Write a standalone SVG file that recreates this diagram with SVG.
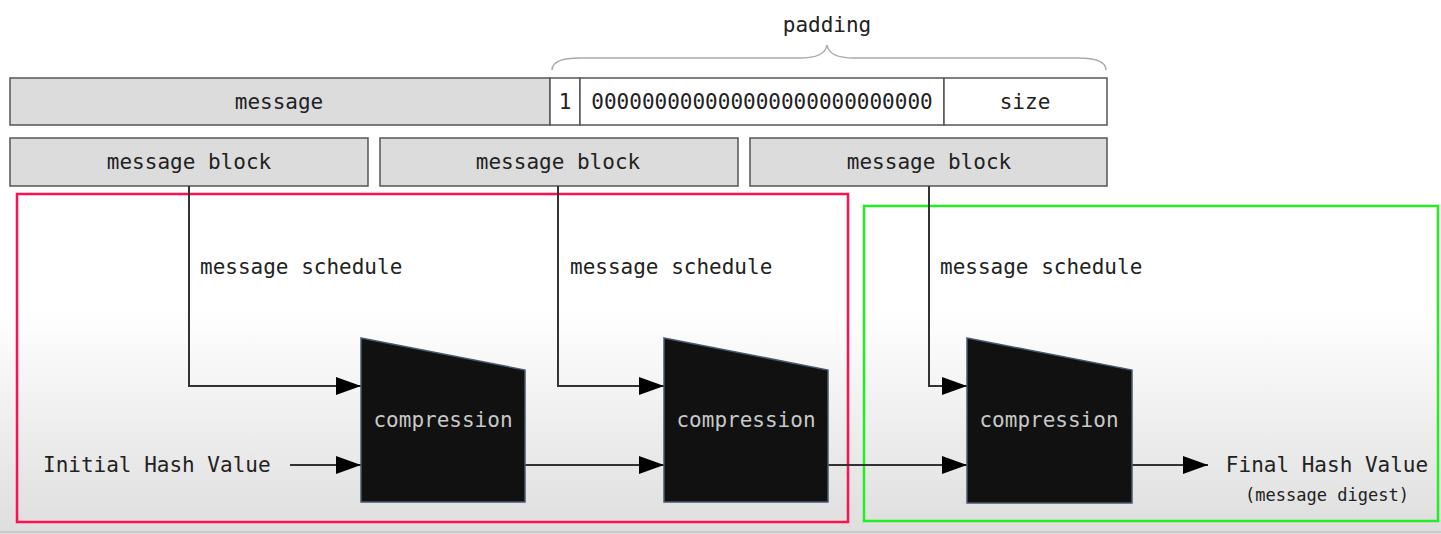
<svg xmlns="http://www.w3.org/2000/svg" width="1441" height="534" viewBox="0 0 1441 534">
<defs>
<linearGradient id="bg" x1="0" y1="0" x2="0" y2="1">
<stop offset="0" stop-color="#ffffff"/>
<stop offset="0.58" stop-color="#ffffff"/>
<stop offset="1" stop-color="#dedede"/>
</linearGradient>
<marker id="arr" viewBox="0 0 25 18" refX="25" refY="9" markerWidth="25" markerHeight="18" markerUnits="userSpaceOnUse" orient="auto">
<path d="M0,0 L25,9 L0,18 Z" fill="#000"/>
</marker>
</defs>
<style>
text{font-family:"DejaVu Sans Mono","Liberation Mono",monospace;font-size:21px;fill:#222}
.c{text-anchor:middle}
.box{stroke:#555;stroke-width:1.5}
.g{fill:#dcdcdc}
.w{fill:#fff}
.comp{fill:#111;stroke:#4a5a70;stroke-width:1.5}
.ct{fill:#c8c8c8}
.ln{fill:none;stroke:#333;stroke-width:2}
</style>
<rect x="0" y="0" width="1441" height="534" fill="url(#bg)"/>
<line x1="0" y1="532" x2="1441" y2="532" stroke="#c8c8c8" stroke-width="2"/>

<g id="padding">
<path d="M552,70 Q552,58 580,58 L800,58 Q825,58 827,45 Q829,58 854,58 L1078,58 Q1106,58 1106,70" fill="none" stroke="#aaa" stroke-width="1.5"/>
<text class="c" x="827" y="32">padding</text>
</g>

<g id="message"><rect class="box g" x="10" y="78" width="540" height="47"/><text class="c" x="279" y="109">message</text></g>
<g id="one"><rect class="box w" x="550" y="78" width="30" height="47"/><text class="c" x="565" y="109">1</text></g>
<g id="zeros"><rect class="box w" x="580" y="78" width="364" height="47"/><text class="c" x="762" y="109">000000000000000000000000000</text></g>
<g id="size"><rect class="box w" x="944" y="78" width="163" height="47"/><text class="c" x="1025" y="109">size</text></g>

<g id="block1"><rect class="box g" x="10" y="138" width="358" height="48"/><text class="c" x="189" y="169">message block</text></g>
<g id="block2"><rect class="box g" x="380" y="138" width="358" height="48"/><text class="c" x="558" y="169">message block</text></g>
<g id="block3"><rect class="box g" x="750" y="138" width="357" height="48"/><text class="c" x="929" y="169">message block</text></g>

<g id="red-group"><rect x="17" y="194" width="831" height="328" fill="none" stroke="#ff1050" stroke-width="2.5"/></g>
<g id="green-group"><rect x="864" y="206" width="574" height="315" fill="none" stroke="#22ee22" stroke-width="2.5"/></g>

<g id="connectors">
<path class="ln" d="M189,186 V386 H361" marker-end="url(#arr)"/>
<path class="ln" d="M558,186 V386 H664" marker-end="url(#arr)"/>
<path class="ln" d="M929,186 V386 H967" marker-end="url(#arr)"/>
<path class="ln" d="M290,465 H361" marker-end="url(#arr)"/>
<path class="ln" d="M525,465 H664" marker-end="url(#arr)"/>
<path class="ln" d="M828,465 H967" marker-end="url(#arr)"/>
<path class="ln" d="M1132,465 H1208" marker-end="url(#arr)"/>
</g>

<g id="labels">
<text x="200" y="274">message schedule</text>
<text x="570" y="274">message schedule</text>
<text x="940" y="274">message schedule</text>
<text x="43" y="472">Initial Hash Value</text>
</g>

<g id="comp1"><path class="comp" d="M361,338 L525,370 L525,502 L361,502 Z"/><text class="c ct" x="443" y="427">compression</text></g>
<g id="comp2"><path class="comp" d="M664,338 L828,370 L828,502 L664,502 Z"/><text class="c ct" x="746" y="427">compression</text></g>
<g id="comp3"><path class="comp" d="M967,338 L1132,370 L1132,503 L967,503 Z"/><text class="c ct" x="1049" y="427">compression</text></g>

<g id="final">
<text class="c" x="1327" y="472">Final Hash Value</text>
<text class="c" x="1327" y="501" style="font-size:17px">(message digest)</text>
</g>
</svg>
